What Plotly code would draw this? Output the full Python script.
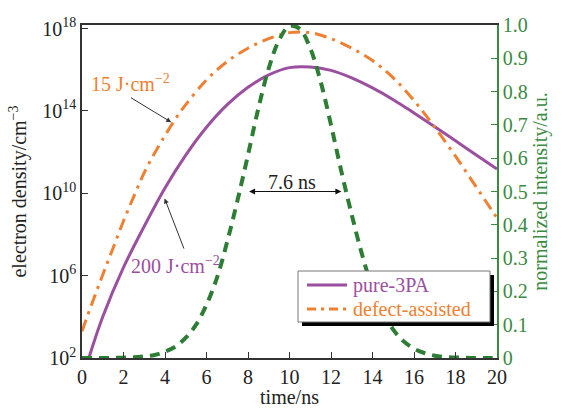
import plotly.graph_objects as go

# ---- data ----
time_pure = [0.33, 1, 2, 3, 4, 5, 6, 7, 8, 9, 10, 11, 12, 13, 14, 15, 16, 17, 18, 19, 20]
density_pure = [1.0e2, 1.0e4, 2.5e6, 2.5e8, 1.8e10, 7.1e11, 1.6e13, 2.0e14, 1.4e15, 5.6e15,
                1.26e16, 1.35e16, 9.3e15, 4.0e15, 1.3e15, 3.5e14, 7.9e13, 1.7e13, 3.5e12,
                7.2e11, 1.5e11]

time_defect = [0, 0.5, 1, 1.5, 2, 2.5, 3, 3.5, 4, 4.5, 5, 6, 7, 8, 9, 10, 11, 12, 13, 14,
               15, 16, 17, 18, 19, 20]
density_defect = [2.0e3, 5.0e4, 1.1e6, 2.2e7, 4.5e8, 7.1e9, 1.0e11, 8.9e11, 6.3e12, 4.0e13,
                  2.0e14, 3.2e15, 2.5e16, 1.1e17, 3.2e17, 6.3e17, 6.3e17, 3.2e17, 1.1e17,
                  2.8e16, 4.0e15, 3.2e14, 1.6e13, 6.3e11, 2.0e10, 6.3e8]

time_pulse = [0, 0.5, 1, 1.5, 2, 2.5, 3, 3.5, 4, 4.5, 5, 5.5, 6, 6.5, 7, 7.5, 8, 8.5, 9, 9.5,
              10, 10.5, 11, 11.5, 12, 12.5, 13, 13.5, 14, 14.5, 15, 15.5, 16, 16.5, 17, 17.5,
              18, 18.5, 19, 19.5, 20]
intensity_pulse = [0, 0, 0.0001, 0.0004, 0.001, 0.002, 0.005, 0.009, 0.019, 0.034, 0.061,
                   0.10, 0.16, 0.24, 0.35, 0.475, 0.61, 0.75, 0.87, 0.955, 0.997, 0.988,
                   0.93, 0.83, 0.70, 0.56, 0.43, 0.31, 0.21, 0.14, 0.085, 0.05, 0.028, 0.015,
                   0.007, 0.003, 0.0015, 0.0006, 0.0002, 0.0001, 0]

x_ticks = list(range(0, 21, 2))
y_tick_vals = [1e2, 1e6, 1e10, 1e14, 1e18]
y_tick_text = ["10<sup>2</sup>", "10<sup>6</sup>", "10<sup>10</sup>", "10<sup>14</sup>", "10<sup>18</sup>"]
y2_tick_vals = [i / 10 for i in range(11)]
y2_tick_text = ["0", "0.1", "0.2", "0.3", "0.4", "0.5", "0.6", "0.7", "0.8", "0.9", "1.0"]

series_names = ["pure-3PA", "defect-assisted"]
fluence_labels = ["15 J·cm<sup>−2</sup>", "200 J·cm<sup>−2</sup>"]
width_label = "7.6 ns"

PURPLE = "#9b4f9f"
ORANGE = "#ef7f31"
GREEN = "#2e7d35"
GREEN_AXIS = "#3a8a42"
FONT = "Liberation Serif"

W, H = 562, 408
L, R, T, B = 82, 65, 25, 50


def px(x):
    return (x - L) / (W - L - R)


def py(y):
    return (H - B - y) / (H - T - B)


fig = go.Figure()

fig.add_trace(go.Scatter(x=time_pure, y=density_pure, mode="lines", name=series_names[0],
                         line=dict(color=PURPLE, width=3, shape="spline")))
fig.add_trace(go.Scatter(x=time_defect, y=density_defect, mode="lines", name=series_names[1],
                         line=dict(color=ORANGE, width=3, shape="spline",
                                   dash="12px,6px,3px,6px")))
fig.add_trace(go.Scatter(x=time_pulse, y=intensity_pulse, mode="lines", name="pulse",
                         yaxis="y2",
                         line=dict(color=GREEN, width=4, shape="spline", dash="10px,7px")))

annotations = [
    # fluence labels with pointer arrows
    dict(x=2.34, y=15.35, xref="x", yref="y", text=fluence_labels[0], showarrow=False,
         font=dict(color=ORANGE, size=20, family=FONT)),
    dict(x=4.3, y=13.45, xref="x", yref="y", ax=2.29, ay=14.68, axref="x", ayref="y",
         text="", showarrow=True, arrowhead=2, arrowsize=1, arrowwidth=1, arrowcolor="#333"),
    dict(x=4.5, y=6.5, xref="x", yref="y", text=fluence_labels[1], showarrow=False,
         font=dict(color=PURPLE, size=20, family=FONT)),
    dict(x=3.98, y=9.75, xref="x", yref="y", ax=4.94, ay=7.24, axref="x", ayref="y",
         text="", showarrow=True, arrowhead=2, arrowsize=1, arrowwidth=1, arrowcolor="#333"),
    # pulse width marker
    dict(x=12.5, y=0.5, xref="x", yref="y2", ax=7.98, ay=0.5, axref="x", ayref="y2",
         text="", showarrow=True, arrowhead=2, startarrowhead=2, arrowside="end+start",
         arrowsize=1, arrowwidth=1.2, arrowcolor="#111"),
    dict(x=10.14, y=0.53, xref="x", yref="y2", text=width_label, showarrow=False,
         font=dict(color="#222", size=20, family=FONT)),
    # legend labels
    dict(x=px(351), y=py(285), xref="paper", yref="paper", text=series_names[0],
         showarrow=False, xanchor="left", yanchor="middle",
         font=dict(color=PURPLE, size=20, family=FONT)),
    dict(x=px(351), y=py(309), xref="paper", yref="paper", text=series_names[1],
         showarrow=False, xanchor="left", yanchor="middle",
         font=dict(color=ORANGE, size=20, family=FONT)),
]

shapes = [
    # legend shadow and box
    dict(type="rect", xref="paper", yref="paper", x0=px(302), x1=px(494), y0=py(275), y1=py(326),
         fillcolor="black", line=dict(width=0), layer="above"),
    dict(type="rect", xref="paper", yref="paper", x0=px(298), x1=px(490), y0=py(271), y1=py(322),
         fillcolor="white", line=dict(color="#777", width=1), layer="above"),
    dict(type="line", xref="paper", yref="paper", x0=px(307), x1=px(347), y0=py(285), y1=py(285),
         line=dict(color=PURPLE, width=3), layer="above"),
    dict(type="line", xref="paper", yref="paper", x0=px(307), x1=px(347), y0=py(309), y1=py(309),
         line=dict(color=ORANGE, width=3, dash="9px,5px,3px,5px"), layer="above"),
]

fig.update_layout(
    width=W, height=H,
    margin=dict(l=L, r=R, t=T, b=B, autoexpand=False),
    paper_bgcolor="white", plot_bgcolor="white",
    showlegend=False,
    font=dict(family=FONT, size=20, color="#222"),
    annotations=annotations,
    shapes=shapes,
    xaxis=dict(range=[0, 20], tickvals=x_ticks, ticks="inside", ticklen=6, tickcolor="#333",
               showline=True, linecolor="#333", linewidth=1.5, mirror=True,
               showgrid=False, zeroline=False, automargin=False,
               title=dict(text="time/ns", standoff=6, font=dict(size=20))),
    yaxis=dict(type="log", range=[2, 18.17], tickvals=y_tick_vals, ticktext=y_tick_text,
               ticks="inside", ticklen=6, tickcolor="#333",
               showline=True, linecolor="#333", linewidth=1.5,
               showgrid=False, zeroline=False, automargin=False,
               title=dict(text="electron density/cm<sup>−3</sup>", standoff=10,
                          font=dict(size=20))),
    yaxis2=dict(overlaying="y", side="right", range=[0, 1], tickvals=y2_tick_vals,
                ticktext=y2_tick_text, ticks="inside", ticklen=6, tickcolor=GREEN_AXIS,
                showline=True, linecolor=GREEN_AXIS, linewidth=1.5,
                showgrid=False, zeroline=False, automargin=False,
                tickfont=dict(color=GREEN_AXIS, size=20),
                title=dict(text="normalized intensity/a.u.", standoff=6,
                           font=dict(color=GREEN_AXIS, size=20))),
)

fig.write_html("out.html")
